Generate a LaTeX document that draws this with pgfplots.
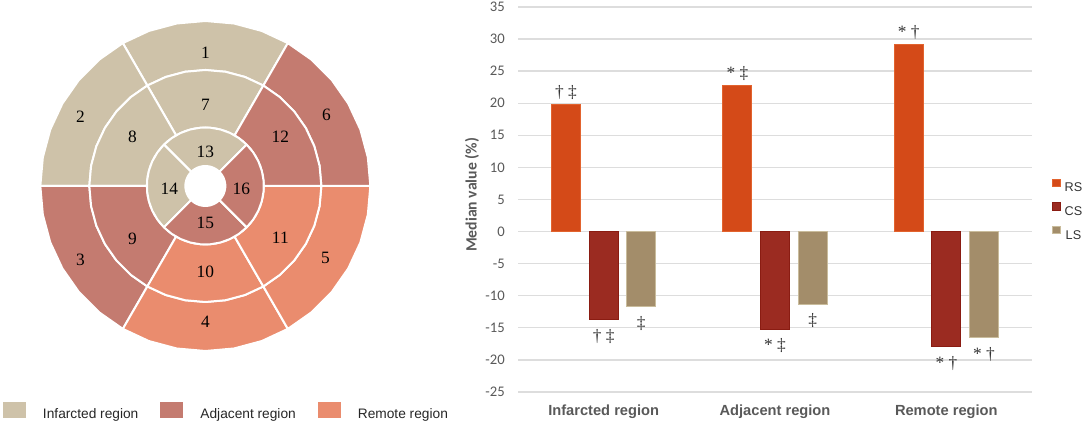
\documentclass[border=0pt]{standalone}
\usepackage{fontspec}
\setmainfont{Liberation Sans}
\newfontfamily\carlito{Carlito}
\newfontfamily\lserif{Liberation Serif}
\usepackage{pgfplots}
\pgfplotsset{compat=1.18}
\definecolor{infc}{HTML}{CEC2A9}
\definecolor{adjc}{HTML}{C47B70}
\definecolor{remc}{HTML}{EA8C6E}
\definecolor{rsc}{HTML}{D44A18}
\definecolor{rsd}{HTML}{E2632E}
\definecolor{csc}{HTML}{9B2B21}
\definecolor{csd}{HTML}{8A1C12}
\definecolor{lsc}{HTML}{A38D6A}
\definecolor{lsd}{HTML}{C9BC9C}
\definecolor{txtc}{HTML}{595959}
\definecolor{gridc}{HTML}{DDDDDD}
\tikzset{num/.style={font=\lserif\fontsize{13}{15}\selectfont, inner sep=0pt, text=black}}
\begin{document}
\begin{tikzpicture}
\useasboundingbox (0,0) rectangle (813pt,317.25pt);
% ---------------- bullseye ----------------
\begin{axis}[at={(154pt,177.75pt)}, anchor=center, scale only axis,
  width=247.5pt, height=247.5pt,
  xmin=-165, xmax=165, ymin=-165, ymax=165, hide axis, clip=false,
  sector/.style={draw=white, line width=1.5pt, line join=round, forget plot, data cs=polar},
  legend columns=3,
  legend image code/.code={\fill[#1, draw=none] (0pt,-2.3pt) rectangle (17.25pt,9.7pt);},
  legend style={at={(axis description cs:-0.114,-0.182)}, anchor=west, draw=none, fill=none,
    inner sep=0pt, font=\fontsize{10.3}{12}\selectfont, text=black!85,
    nodes={inner sep=0pt},
    /tikz/every odd column/.append style={column sep=12.75pt},
    /tikz/every even column/.append style={column sep=16.5pt}},
]
% outer ring
\addplot[sector, fill=infc] coordinates {(60,165) (70,165) (80,165) (90,165) (100,165) (110,165) (120,165) (120,116) (110,116) (100,116) (90,116) (80,116) (70,116) (60,116)} -- cycle;
\addplot[sector, fill=infc] coordinates {(120,165) (130,165) (140,165) (150,165) (160,165) (170,165) (180,165) (180,116) (170,116) (160,116) (150,116) (140,116) (130,116) (120,116)} -- cycle;
\addplot[sector, fill=adjc] coordinates {(180,165) (190,165) (200,165) (210,165) (220,165) (230,165) (240,165) (240,116) (230,116) (220,116) (210,116) (200,116) (190,116) (180,116)} -- cycle;
\addplot[sector, fill=remc] coordinates {(240,165) (250,165) (260,165) (270,165) (280,165) (290,165) (300,165) (300,116) (290,116) (280,116) (270,116) (260,116) (250,116) (240,116)} -- cycle;
\addplot[sector, fill=remc] coordinates {(300,165) (310,165) (320,165) (330,165) (340,165) (350,165) (360,165) (360,116) (350,116) (340,116) (330,116) (320,116) (310,116) (300,116)} -- cycle;
\addplot[sector, fill=adjc] coordinates {(0,165) (10,165) (20,165) (30,165) (40,165) (50,165) (60,165) (60,116) (50,116) (40,116) (30,116) (20,116) (10,116) (0,116)} -- cycle;
% middle ring
\addplot[sector, fill=infc] coordinates {(60,116) (70,116) (80,116) (90,116) (100,116) (110,116) (120,116) (120,58.5) (110,58.5) (100,58.5) (90,58.5) (80,58.5) (70,58.5) (60,58.5)} -- cycle;
\addplot[sector, fill=infc] coordinates {(120,116) (130,116) (140,116) (150,116) (160,116) (170,116) (180,116) (180,58.5) (170,58.5) (160,58.5) (150,58.5) (140,58.5) (130,58.5) (120,58.5)} -- cycle;
\addplot[sector, fill=adjc] coordinates {(180,116) (190,116) (200,116) (210,116) (220,116) (230,116) (240,116) (240,58.5) (230,58.5) (220,58.5) (210,58.5) (200,58.5) (190,58.5) (180,58.5)} -- cycle;
\addplot[sector, fill=remc] coordinates {(240,116) (250,116) (260,116) (270,116) (280,116) (290,116) (300,116) (300,58.5) (290,58.5) (280,58.5) (270,58.5) (260,58.5) (250,58.5) (240,58.5)} -- cycle;
\addplot[sector, fill=remc] coordinates {(300,116) (310,116) (320,116) (330,116) (340,116) (350,116) (360,116) (360,58.5) (350,58.5) (340,58.5) (330,58.5) (320,58.5) (310,58.5) (300,58.5)} -- cycle;
\addplot[sector, fill=adjc] coordinates {(0,116) (10,116) (20,116) (30,116) (40,116) (50,116) (60,116) (60,58.5) (50,58.5) (40,58.5) (30,58.5) (20,58.5) (10,58.5) (0,58.5)} -- cycle;
% inner ring
\addplot[sector, fill=infc] coordinates {(45,58.5) (55,58.5) (65,58.5) (75,58.5) (85,58.5) (95,58.5) (105,58.5) (115,58.5) (125,58.5) (135,58.5) (135,20) (125,20) (115,20) (105,20) (95,20) (85,20) (75,20) (65,20) (55,20) (45,20)} -- cycle;
\addplot[sector, fill=infc] coordinates {(135,58.5) (145,58.5) (155,58.5) (165,58.5) (175,58.5) (185,58.5) (195,58.5) (205,58.5) (215,58.5) (225,58.5) (225,20) (215,20) (205,20) (195,20) (185,20) (175,20) (165,20) (155,20) (145,20) (135,20)} -- cycle;
\addplot[sector, fill=adjc] coordinates {(225,58.5) (235,58.5) (245,58.5) (255,58.5) (265,58.5) (275,58.5) (285,58.5) (295,58.5) (305,58.5) (315,58.5) (315,20) (305,20) (295,20) (285,20) (275,20) (265,20) (255,20) (245,20) (235,20) (225,20)} -- cycle;
\addplot[sector, fill=adjc] coordinates {(315,58.5) (325,58.5) (335,58.5) (345,58.5) (355,58.5) (365,58.5) (375,58.5) (385,58.5) (395,58.5) (405,58.5) (405,20) (395,20) (385,20) (375,20) (365,20) (355,20) (345,20) (335,20) (325,20) (315,20)} -- cycle;
\node[num] at (axis cs:0,133) {1};
\node[num] at (axis cs:-125,69) {2};
\node[num] at (axis cs:-125,-74) {3};
\node[num] at (axis cs:0,-136) {4};
\node[num] at (axis cs:120,-72) {5};
\node[num] at (axis cs:121,71) {6};
\node[num] at (axis cs:0,81) {7};
\node[num] at (axis cs:-73,49) {8};
\node[num] at (axis cs:-73,-53) {9};
\node[num] at (axis cs:0,-86) {10};
\node[num] at (axis cs:75,-52) {11};
\node[num] at (axis cs:75,49) {12};
\node[num] at (axis cs:0,34) {13};
\node[num] at (axis cs:-36,-3) {14};
\node[num] at (axis cs:0,-37) {15};
\node[num] at (axis cs:36,-3) {16};
\addlegendimage{fill=infc}\addlegendentry{Infarcted region}
\addlegendimage{fill=adjc}\addlegendentry{Adjacent region}
\addlegendimage{fill=remc}\addlegendentry{Remote region}
\end{axis}
% ---------------- bar chart ----------------
\begin{axis}[at={(388.5pt,23.25pt)}, anchor=south west, scale only axis,
  width=385.5pt, height=288.75pt,
  ybar=6.45pt, bar width=21.75pt,
  xmin=-0.5, xmax=2.5, ymin=-25, ymax=35,
  xtick={0,1,2}, xticklabels={Infarcted region,Adjacent region,Remote region},
  ytick={-25,-20,-15,-10,-5,0,5,10,15,20,25,30,35},
  ymajorgrids, grid style={draw=gridc, line width=1pt},
  axis line style={draw=none}, major tick length=0pt,
  /pgf/number format/assume math mode=true,
  yticklabel style={font=\carlito\fontsize{11}{13}\selectfont, text=txtc, anchor=east, inner sep=0pt, xshift=-9.75pt},
  xticklabel style={font=\bfseries\fontsize{11}{13}\selectfont, text=txtc, anchor=base, inner sep=0pt, yshift=-17.8pt},
  ylabel={Median value (\%)},
  every axis y label/.style={at={(axis description cs:-0.0895,0.5117)}, rotate=90, anchor=center,
    font=\carlito\bfseries\fontsize{11.8}{13}\selectfont, text=txtc},
  legend image code/.code={\fill[#1] (0pt,0.65pt) rectangle (5.5pt,6.15pt);},
  legend style={at={(axis description cs:1.039,0.4753)}, anchor=west, draw=none, fill=none,
    inner sep=0pt, font=\fontsize{9.5}{11}\selectfont, text=black!80, row sep=7.8pt,
    nodes={inner sep=0pt, text height=6.8pt, text depth=0pt},
    /tikz/every odd column/.append style={column sep=3pt}},
  nodes near coords, point meta=explicit symbolic,
  every node near coord/.append style={font=\lserif\fontsize{13}{15}\selectfont, text=black!80},
]
\addplot[fill=rsc, draw=rsd, line width=0.75pt,
  every node near coord/.append style={anchor=south, inner sep=3.5pt}]
  coordinates {(0,19.8) [† ‡] (1,22.7) [* ‡] (2,29.1) [* †]};
\addplot[fill=csc, draw=csd, line width=0.75pt,
  every node near coord/.append style={anchor=north, inner sep=7pt}]
  coordinates {(0,-13.7) [† ‡] (1,-15.2) [* ‡] (2,-17.9) [* †]};
\addplot[fill=lsc, draw=lsd, line width=0.75pt,
  every node near coord/.append style={anchor=north, inner sep=7pt}]
  coordinates {(0,-11.7) [‡] (1,-11.3) [‡] (2,-16.5) [* †]};
\legend{RS,CS,LS}
\end{axis}
\end{tikzpicture}
\end{document}
